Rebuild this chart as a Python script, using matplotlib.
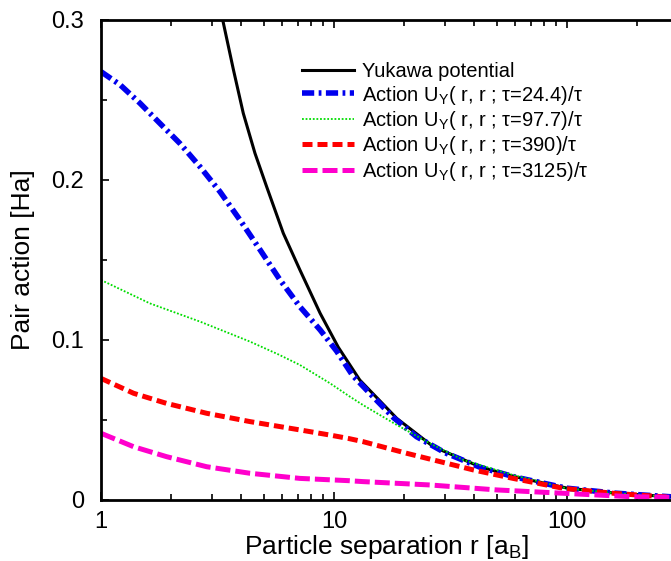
import numpy as np
import matplotlib
matplotlib.use('Agg')
import matplotlib.pyplot as plt
from matplotlib.ticker import FixedLocator, FixedFormatter, LogLocator, NullFormatter

plt.rcParams['font.family'] = ['Liberation Sans', 'DejaVu Sans']
plt.rcParams['mathtext.fontset'] = 'custom'
plt.rcParams['mathtext.rm'] = 'Liberation Sans'

# Yukawa potential
r_yuk = [3.33, 3.70, 4.08, 4.58, 5.14, 6.06, 7.14, 8.72, 10.43, 12.9, 18.6, 26.7, 42.3, 60, 99.6, 160, 279]
v_yuk = [0.300, 0.269, 0.2417, 0.2167, 0.1958, 0.1667, 0.1438, 0.1167, 0.0955, 0.075, 0.051, 0.0333, 0.0208, 0.0145, 0.0075, 0.0043, 0.0020]

# Action tau=24.4
r_a1 = [1.0, 1.21, 1.47, 1.79, 2.18, 2.66, 3.24, 3.95, 4.82, 5.87, 7.14, 8.72, 10.27, 12.0, 14.7, 18.0, 22.6, 30, 42.3, 60, 99.6, 160, 279]
v_a1 = [0.2677, 0.2594, 0.248, 0.2354, 0.2229, 0.2083, 0.1927, 0.175, 0.1563, 0.1375, 0.1208, 0.1063, 0.0930, 0.0780, 0.0646, 0.0515, 0.0396, 0.0295, 0.0205, 0.0143, 0.0074, 0.0043, 0.0020]

# Action tau=97.7
r_a2 = [1.0, 1.62, 2.66, 4.36, 5.77, 7.14, 9.6, 11.7, 13.3, 18.6, 25.8, 35.9, 58.7, 99.6, 160, 279]
v_a2 = [0.1375, 0.1229, 0.1115, 0.099, 0.091, 0.0844, 0.073, 0.0646, 0.0594, 0.0469, 0.0354, 0.025, 0.0156, 0.0073, 0.0043, 0.0019]

# Action tau=390
r_a3 = [1.0, 1.38, 1.91, 2.84, 4.36, 7.14, 9.6, 11.5, 13.3, 20.5, 28.5, 39.6, 58.7, 96.4, 158, 279]
v_a3 = [0.076, 0.0667, 0.0604, 0.0542, 0.049, 0.0438, 0.0406, 0.0385, 0.0365, 0.0292, 0.024, 0.0188, 0.0135, 0.0073, 0.0042, 0.0017]

# Action tau=3125
r_a4 = [1.0, 1.38, 1.91, 2.84, 4.36, 7.14, 11.5, 13.3, 25.8, 49.9, 96.4, 186, 279]
v_a4 = [0.0417, 0.0333, 0.0271, 0.0208, 0.0167, 0.0135, 0.0121, 0.0115, 0.0094, 0.0063, 0.0042, 0.0021, 0.0017]

labels = ['Yukawa potential',
          r'Action U$_\mathregular{Y}$( r, r ; τ=24.4)/τ',
          r'Action U$_\mathregular{Y}$( r, r ; τ=97.7)/τ',
          r'Action U$_\mathregular{Y}$( r, r ; τ=390)/τ',
          r'Action U$_\mathregular{Y}$( r, r ; τ=3125)/τ']

fig = plt.figure(figsize=(6.71, 5.61), dpi=100)
ax = fig.add_axes([101 / 671, 1 - 500 / 561, 1 - 101 / 671, 480 / 561])

ax.plot(r_yuk, v_yuk, color='black', lw=2.2, label=labels[0])
ax.plot(r_a1, v_a1, color='#0000ee', lw=4, dashes=(2.2, 0.8, 0.5, 0.8), label=labels[1])
ax.plot(r_a2, v_a2, color='#00dd00', lw=1.3, dashes=(1, 1), label=labels[2])
ax.plot(r_a3, v_a3, color='#ff0000', lw=3.6, dashes=(2, 1), label=labels[3])
ax.plot(r_a4, v_a4, color='#ff00cc', lw=3.6, dashes=(3, 1), label=labels[4])

ax.set_xscale('log')
ax.set_xlim(1, 279.5)
ax.set_ylim(0, 0.3)

ax.xaxis.set_major_locator(FixedLocator([1, 10, 100]))
ax.xaxis.set_major_formatter(FixedFormatter(['1', '10', '100']))
ax.xaxis.set_minor_locator(LogLocator(base=10, subs=np.arange(2, 10)))
ax.xaxis.set_minor_formatter(NullFormatter())
ax.yaxis.set_major_locator(FixedLocator([0, 0.1, 0.2, 0.3]))
ax.yaxis.set_major_formatter(FixedFormatter(['0', '0.1', '0.2', '0.3']))
ax.yaxis.set_minor_locator(FixedLocator([0.05, 0.15, 0.25]))

ax.tick_params(which='both', direction='in', top=True, right=False, width=1.2, labelsize=17)
ax.tick_params(which='major', length=6)
ax.tick_params(which='minor', length=4)
ax.tick_params(axis='x', pad=8)
ax.tick_params(axis='y', pad=12)

for s in ['left', 'bottom', 'top']:
    ax.spines[s].set_linewidth(2)
ax.spines['right'].set_visible(False)

ax.set_xlabel('Particle separation r [a$_\\mathregular{B}$]', fontsize=19, labelpad=0)
ax.set_ylabel('Pair action [Ha]', fontsize=19, labelpad=12)

ax.legend(loc='upper left', bbox_to_anchor=(284 / 671, 1 - 44 / 561), bbox_transform=fig.transFigure,
          frameon=False, fontsize=14.5, handlelength=2.6, labelspacing=0.12, handletextpad=0.35)

fig.savefig('out.png', dpi=100)
